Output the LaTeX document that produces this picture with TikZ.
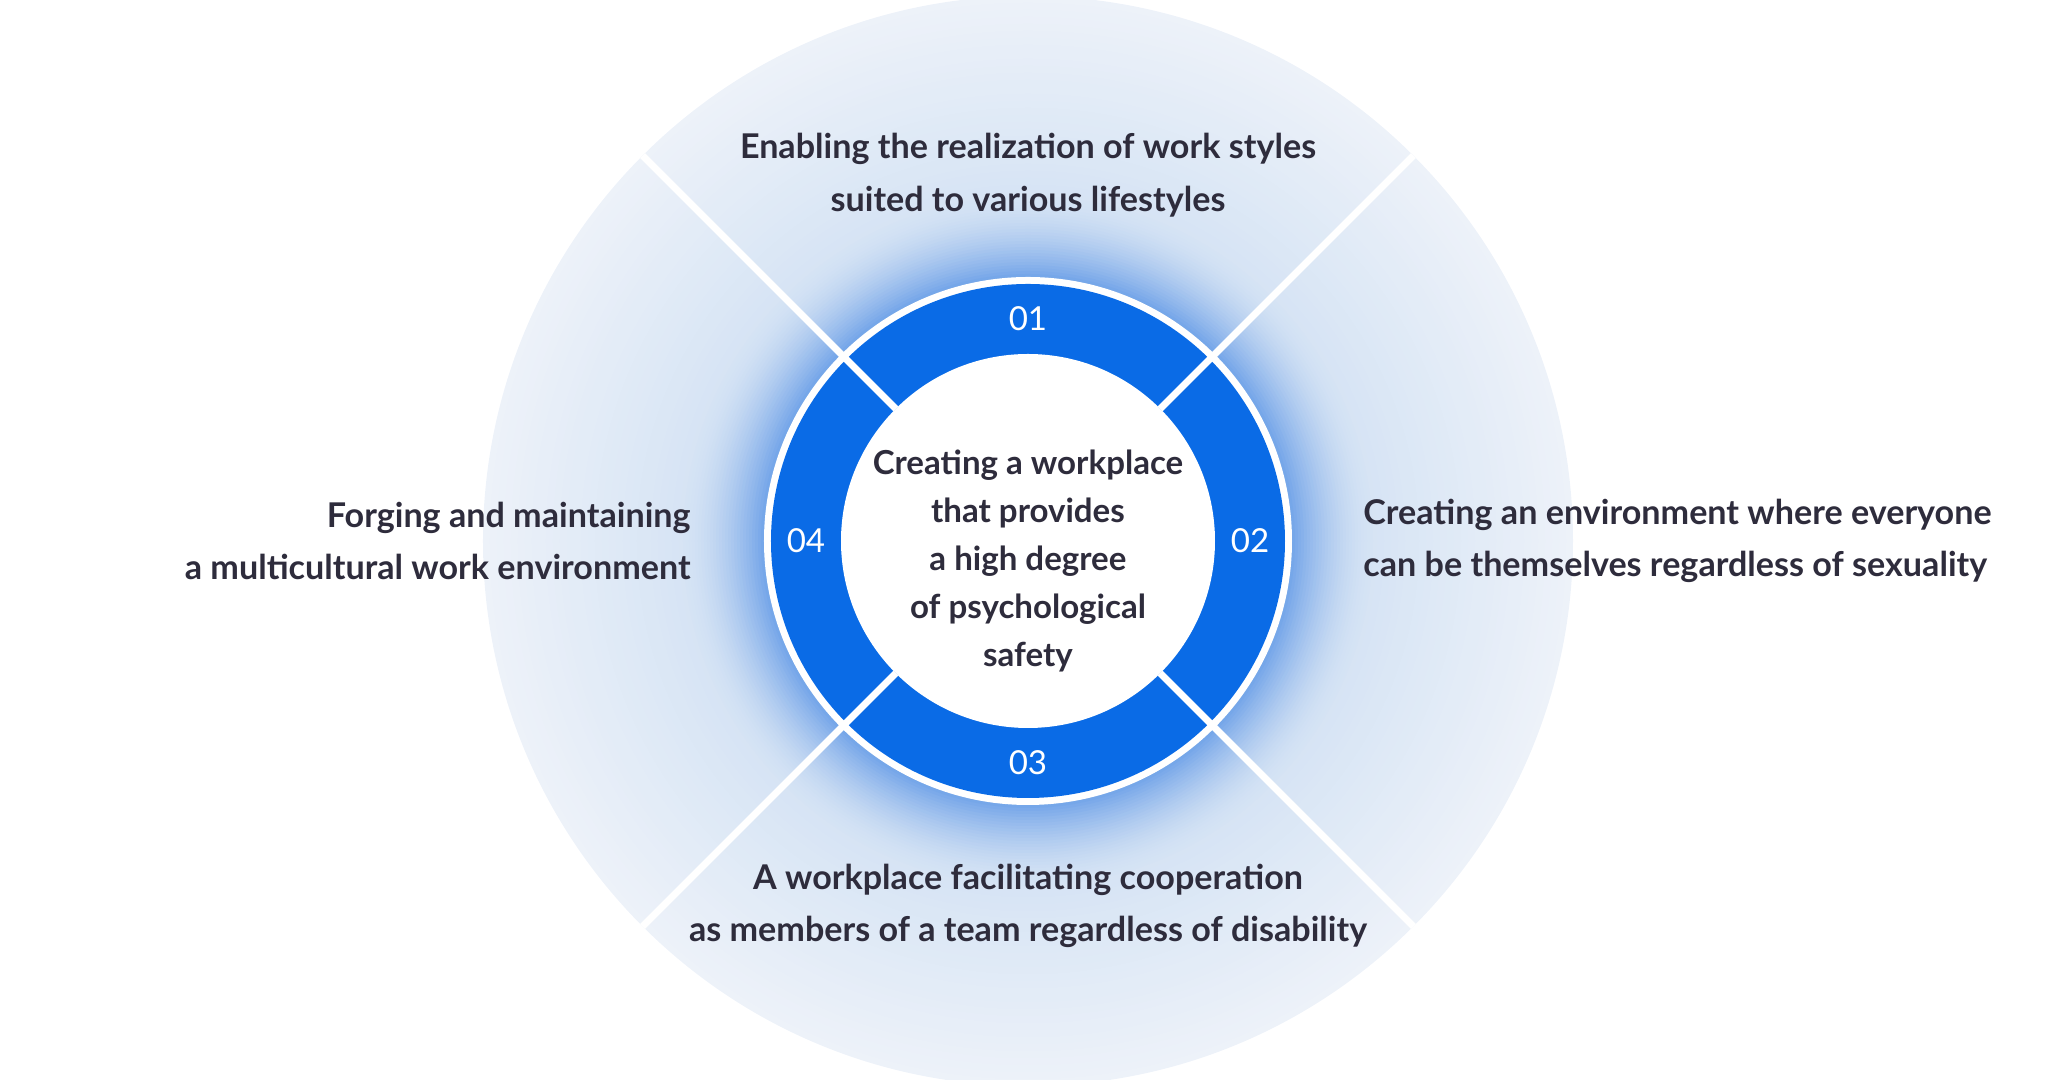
\documentclass[tikz,border=0pt]{standalone}
\usepackage{fontspec}
\setmainfont{Lato}
\usetikzlibrary{positioning}
\definecolor{bgc}{HTML}{EDF2F9}
\definecolor{bgin}{HTML}{D5E3F4}
\definecolor{glowc}{HTML}{5E97E6}
\definecolor{ringc}{HTML}{0A6BE6}
\definecolor{txtc}{HTML}{2E2C3C}
\begin{document}
\begin{tikzpicture}[x=0.01cm,y=0.01cm,
	lbl/.style={font=\fontsize{9.7}{15}\selectfont\bfseries, text=txtc},
	num/.style={font=\fontsize{9.4}{10}\selectfont, text=white},
	gap/.style={draw=white, line width=7*0.01cm}
	]
	\useasboundingbox (-1028,-539) rectangle (1020,541);
	% background disc, lighter towards the rim
	\foreach \i in {0,...,30}{
		\pgfmathsetmacro\r{545-\i*7}
		\pgfmathsetmacro\m{100-\i*100/30}
		\fill[bgc!\m!bgin] (0,0) circle (\r);
	}
	% glow round the ring
	\foreach \i in {0,...,30}{
		\pgfmathsetmacro\r{345-\i*3}
		\pgfmathsetmacro\m{(\i/30)^1.6*100}
		\fill[glowc!\m!bgin] (0,0) circle (\r);
	}
	% ring
	\fill[white] (0,0) circle (264);
	\fill[ringc] (0,0) circle (257);
	\fill[white] (0,0) circle (187);
	\foreach \a in {45,135,225,315}
		\draw[gap] (\a:187) -- (\a:545);
	% numbers
	\node (n1) [num] at (90:222) {01};
	\node (n2) [num] at (0:222) {02};
	\node (n3) [num] at (-90:222) {03};
	\node (n4) [num] at (180:222) {04};
	% texts
	\node (core) [lbl, align=center, font=\fontsize{9.4}{13.6}\selectfont\bfseries] at (0,-20)
		{Creating a workplace\\that provides\\a high degree\\of psychological\\safety};
	\node (t1) [lbl, align=center] at (0,366)
		{Enabling the realization of work styles\\suited to various lifestyles};
	\node (t2) [lbl, align=left, anchor=west] at (323,0)
		{Creating an environment where everyone\\can be themselves regardless of sexuality};
	\node (t3) [lbl, align=center] at (0,-365)
		{A workplace facilitating cooperation\\as members of a team regardless of disability};
	\node (t4) [lbl, align=right, anchor=east] at (-325,0)
		{Forging and maintaining\\a multicultural work environment};
\end{tikzpicture}
\end{document}
